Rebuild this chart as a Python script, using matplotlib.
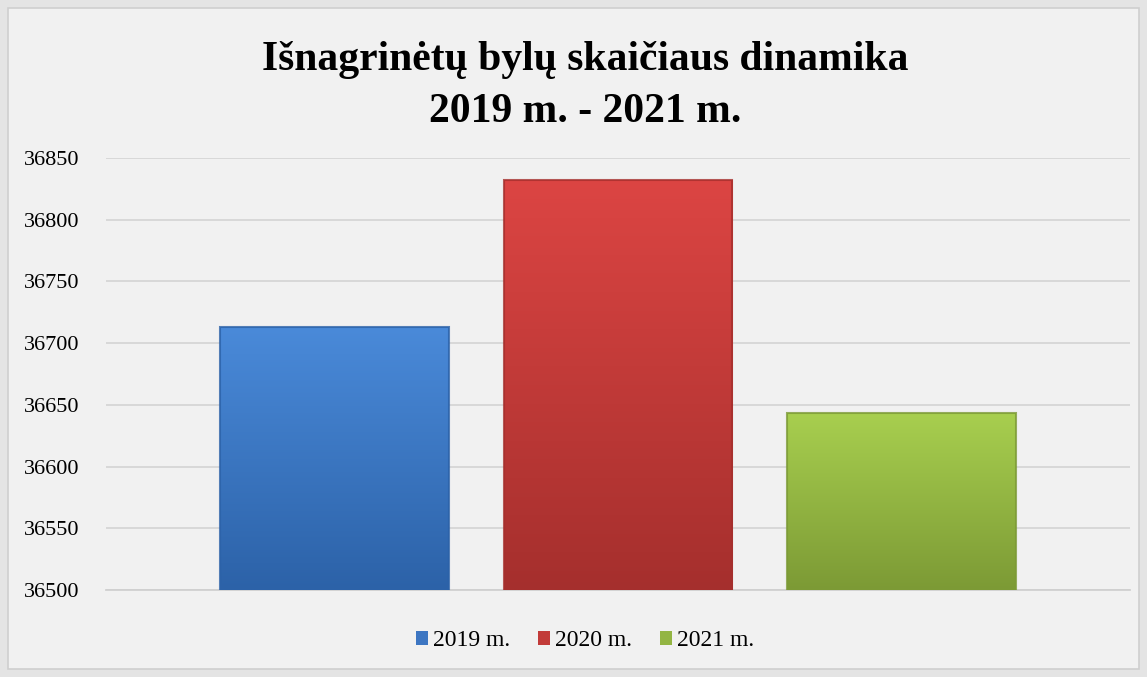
import numpy as np
import matplotlib
matplotlib.use("Agg")
import matplotlib.pyplot as plt
from matplotlib.patches import Patch, Rectangle
from matplotlib.colors import LinearSegmentedColormap

# values
series = ["2019 m.", "2020 m.", "2021 m."]
values = [36713, 36832, 36643]
y_ticks = [36500, 36550, 36600, 36650, 36700, 36750, 36800, 36850]

# top colour, bottom colour for each bar
top_colors = ["#4a8ad9", "#dc4543", "#a8cf4f"]
bottom_colors = ["#2c62a8", "#a52f2d", "#7c9a35"]
legend_colors = ["#3d76c2", "#c23b39", "#93b543"]

plt.rcParams["font.family"] = ["Liberation Serif", "DejaVu Serif"]

fig = plt.figure(figsize=(11.47, 6.77), dpi=100)
fig.patch.set_facecolor("#e4e4e4")

# chart frame (light inner area with thin gray border)
fig.patches.append(Rectangle((8 / 1147, 8 / 677), 1 - 16 / 1147, 1 - 16 / 677,
                             transform=fig.transFigure, facecolor="#f1f1f1",
                             edgecolor="#cfcfcf", linewidth=1.2, zorder=-1))

ax = fig.add_axes([106 / 1147, 1 - 590 / 677, (1130 - 106) / 1147, (590 - 158) / 677])
ax.set_zorder(2)
ax.set_facecolor("none")

x = np.arange(len(values))
width = 0.806
bars = ax.bar(x, values, width=width, color="none", edgecolor="none", zorder=3)

# vertical gradient fill clipped to each bar
grad = np.linspace(0, 1, 256).reshape(-1, 1)
for bar, top, bot in zip(bars, top_colors, bottom_colors):
    cmap = LinearSegmentedColormap.from_list("g", [bot, top])
    x0 = bar.get_x()
    x1 = x0 + bar.get_width()
    im = ax.imshow(grad, cmap=cmap, origin="lower", aspect="auto",
                   extent=[x0, x1, 36500, bar.get_height()], zorder=3)
    im.set_clip_path(bar)
    # darker rim for a bevelled look
    ax.add_patch(Rectangle((x0, 36500), bar.get_width(), bar.get_height() - 36500,
                           facecolor="none", edgecolor=bot, linewidth=1.5,
                           alpha=0.8, zorder=4))

ax.set_ylim(36500, 36850)
ax.set_xlim(-0.805, 2.805)

ax.set_yticks(y_ticks)
ax.set_yticklabels([str(t) for t in y_ticks], fontsize=16)
ax.set_xticks([])
ax.tick_params(axis="y", length=0, pad=19)
ax.grid(axis="y", color="#d6d6d6", linewidth=1.3, zorder=1)
ax.set_axisbelow(True)
for side in ["top", "right", "left"]:
    ax.spines[side].set_visible(False)
ax.spines["bottom"].set_color("#d0d0d0")
ax.spines["bottom"].set_linewidth(1.3)

fig.text(0.51, 1 - 86 / 677, "Išnagrinėtų bylų skaičiaus dinamika\n2019 m. - 2021 m.",
         ha="center", va="center", fontsize=30, fontweight="bold",
         linespacing=1.5)

handles = [Patch(facecolor=c, edgecolor="none") for c in legend_colors]
fig.legend(handles, series, loc="center", bbox_to_anchor=(0.51, 1 - 641 / 677),
           ncol=3, frameon=False, fontsize=17, handlelength=0.5, handleheight=0.5,
           handletextpad=0.2, columnspacing=1.2)

fig.savefig("out.png", dpi=100, facecolor=fig.get_facecolor())
